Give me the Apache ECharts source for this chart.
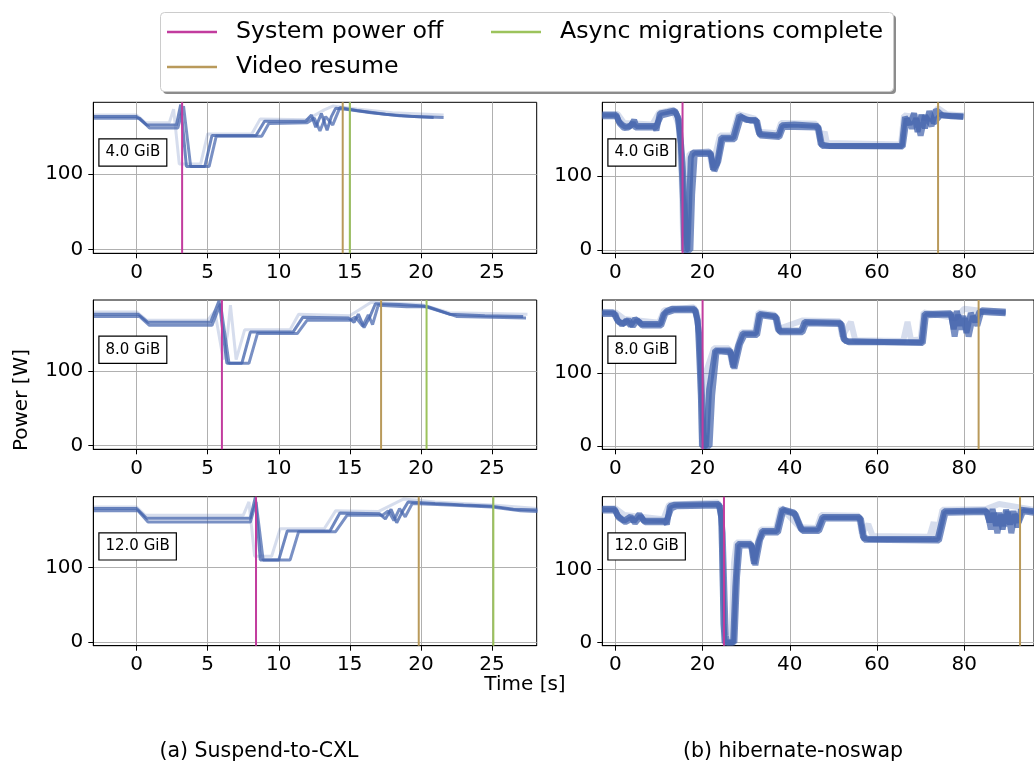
<!DOCTYPE html>
<html><head><meta charset="utf-8">
<script src="https://cdn.jsdelivr.net/npm/echarts@6/dist/echarts.min.js"></script>
<style>html,body{margin:0;padding:0;background:#fff}#c{width:1034px;height:764px}</style>
</head><body><div id="c"></div>
<script>
// ---------- data ----------
const sizeLabels = ['4.0 GiB', '8.0 GiB', '12.0 GiB'];
const cxlTicks = [0, 5, 10, 15, 20, 25];
const hibTicks = [0, 20, 40, 60, 80];
const powerTicks = [0, 100];

// event times [s]
const cxlPowerOff = [3.2, 6.0, 8.4];
const cxlVideoResume = [14.5, 17.2, 19.85];
const cxlAsyncDone = [15.0, 20.4, 25.1];
const hibPowerOff = [15.4, 20.0, 24.9];
const hibVideoResume = [74.0, 83.3, 92.8];

// Suspend-to-CXL traces [time s, power W]
const cxl4a = [[-3,176],[0,176],[0.7,165],[2.8,165],[3.1,192],[3.5,110],[4.8,110],[5.3,151],[8.4,151],[9.0,170],[11.9,170],[12.3,178],[12.6,162],[13.0,180],[13.4,158],[13.7,176],[14.0,187],[15.0,185],[16.5,181],[18.5,177],[20.9,175]];
const cxl4b = [[-3,174],[0.2,174],[0.9,161],[2.9,161],[3.3,190],[3.8,110],[5.1,110],[5.6,150],[8.8,150],[9.3,167],[12.0,168],[12.5,174],[12.9,157],[13.3,176],[13.8,165],[14.3,188],[15.5,184],[17.5,179],[19.5,176],[21.6,175]];
const cxl4c = [[-3,178],[0,178],[0.6,168],[2.3,168],[2.6,186],[3.0,113],[4.5,113],[5.0,153],[8.1,153],[8.7,173],[12,172],[13.2,185],[13.8,190],[15.5,186],[18,181],[21.6,178]];

const cxl8a = [[-3,176],[0.1,176],[0.8,165],[5.2,165],[5.8,194],[6.35,110],[7.4,110],[8.0,152],[11.0,152],[11.7,172],[14.9,171],[15.3,165],[15.6,176],[16.0,158],[16.4,172],[16.8,190],[18.5,189],[20.2,187],[22,176],[24.5,174],[27.2,173]];
const cxl8b = [[-3,173],[0.2,173],[0.9,161],[5.3,161],[5.9,190],[6.5,110],[7.9,110],[8.5,150],[11.3,150],[12.0,168],[15.0,168],[15.4,172],[15.9,160],[16.3,175],[16.6,162],[17.0,188],[19,186],[20.5,186],[22.5,173],[25,172],[27.4,171]];
const cxl8c = [[-3,179],[0,179],[0.7,168],[5.0,168],[5.5,180],[6.1,115],[6.4,150],[6.6,188],[7.0,115],[7.6,155],[10.8,155],[11.4,176],[15,174],[16.5,192],[20,189],[22,178],[27.5,176]];

const cxl12a = [[-3,179],[0,179],[0.7,166],[8.0,166],[8.35,194],[8.7,110],[10.0,110],[10.6,149],[13.6,149],[14.3,173],[17.1,172],[17.5,165],[17.9,178],[18.3,160],[18.7,175],[19.1,188],[21,186],[23,184],[25.1,182],[26.5,178],[28.2,177]];
const cxl12b = [[-3,176],[0.1,176],[0.8,161],[8.0,161],[8.4,188],[8.9,110],[10.8,110],[11.4,148],[14.0,148],[14.8,170],[17.3,170],[17.7,176],[18.1,163],[18.5,179],[18.9,168],[19.4,186],[22,184],[25,181],[27,176],[28.2,175]];
const cxl12c = [[-3,181],[0,181],[0.6,170],[7.5,170],[7.9,188],[8.3,115],[9.5,115],[10.1,152],[13.2,152],[14.0,176],[17,175],[18.8,192],[21,188],[25,184],[28.2,179]];

// hibernate-noswap traces [time s, power W]
const hib4a = [[-3,183],[0.2,183],[0.8,174],[1.5,170],[2.3,167],[3.5,168],[4.3,176],[4.8,168],[9.0,168],[9.4,162],[10.2,185],[12,187],[13.6,189],[14.3,180],[15.0,144],[15.5,70],[15.8,0],[16.5,0],[16.9,60],[17.3,125],[17.8,132],[21.8,132],[22.4,109],[23.3,117],[24.3,152],[27.0,152],[28.4,182],[30,176],[32.2,176],[33,157],[37.4,155],[38.2,169],[41,170],[46.4,168],[47.1,143],[49,141],[65.7,141],[66.4,180],[67.5,170],[68.5,185],[69.3,160],[70.2,183],[71.0,165],[72,188],[73,172],[74.6,183],[77,181],[79.8,180]];
const hib4b = [[-3,181],[0.3,181],[1.0,171],[2.0,165],[3.0,166],[4.0,172],[4.6,166],[9.2,166],[10.5,182],[13.8,187],[14.6,176],[15.4,120],[16.2,20],[16.6,0],[17.2,0],[17.6,75],[18.2,130],[21.9,130],[22.7,107],[23.6,120],[24.6,150],[27.3,150],[28.8,180],[31,175],[32.5,175],[33.2,155],[37.6,153],[38.5,167],[46.6,166],[47.4,141],[65.9,140],[66.8,178],[68,165],[69,178],[70,155],[71,182],[72.5,168],[73.5,190],[75,182],[79.8,181]];
const hib4c = [[-3,184],[0.5,184],[2,172],[8.5,170],[10,186],[13.2,190],[14.5,170],[15.2,100],[15.6,0],[16.2,0],[16.5,95],[17.0,130],[21.5,134],[22.2,112],[24,155],[26.8,155],[28.2,184],[32,178],[32.8,160],[37.2,158],[38,172],[46,171],[47,148],[48,160],[48.5,145],[65.5,143],[66.2,182],[72,178],[74,192],[76,184],[80,182]];

const hib8a = [[-3,183],[-0.5,183],[0.3,174],[1.5,166],[2.5,172],[3.5,165],[4.5,174],[5.5,170],[6,167],[10.3,167],[11.0,180],[11.8,185],[13,188],[18.1,188],[18.9,172],[19.6,70],[19.9,0],[20.8,0],[21.5,78],[22.9,131],[26.3,131],[27,108],[28.2,138],[29.2,154],[32.2,154],[33,181],[36.7,178],[37.4,158],[42.6,158],[43.4,170],[51.6,169],[52.3,147],[53.5,142],[70.2,142],[70.9,181],[76.9,182],[77.6,160],[78.3,185],[79,165],[79.8,178],[80.5,155],[81.5,182],[82.5,170],[83.5,184],[86,183],[89.5,182]];
const hib8b = [[-3,181],[0,181],[0.6,170],[2,168],[3,173],[4,164],[5,172],[6.2,165],[10.5,165],[11.5,182],[13.5,186],[18.4,186],[19.3,150],[20.2,20],[20.6,0],[21.6,0],[22.2,70],[23.2,130],[26.5,128],[27.3,106],[28.6,140],[29.6,152],[32.5,152],[33.3,179],[37,176],[37.7,156],[42.9,156],[43.7,168],[51.9,167],[52.6,144],[70.5,141],[71.2,179],[77,180],[77.8,150],[78.6,180],[79.4,160],[80.2,175],[81,150],[82,178],[83,165],[84,186],[89.5,184]];
const hib8c = [[-3,184],[0,183],[2,174],[10,169],[11.2,186],[18,190],[18.8,180],[19.5,110],[19.8,0],[20.5,0],[21,105],[22.6,134],[26,134],[26.8,112],[29,156],[32,156],[32.8,183],[36.5,180],[37.2,160],[43,172],[51.4,171],[52,150],[54,170],[55,145],[66,144],[67,170],[67.8,145],[70,146],[70.7,183],[78,175],[80,188],[84,185],[89.5,184]];

const hib12a = [[-3,183],[-0.2,183],[0.5,174],[2,167],[3.5,173],[4.2,166],[5.5,176],[6.5,167],[11.4,167],[11.8,162],[12.5,187],[13.6,189],[23.7,190],[24.3,171],[24.8,25],[25.1,0],[27,0],[27.5,76],[28.1,135],[31.1,135],[31.8,108],[32.8,138],[33.7,153],[37,153],[38.2,183],[41,178],[42.6,155],[46.4,155],[47.5,172],[56,172],[56.8,144],[58,142],[73.9,142],[75.4,180],[85,181],[85.8,165],[86.5,183],[87.3,160],[88,178],[88.8,155],[89.6,182],[90.5,162],[91.3,180],[92.2,158],[93,182],[96,180]];
const hib12b = [[-3,181],[0,181],[0.8,171],[2.3,165],[3.8,170],[4.5,164],[5.8,173],[6.8,165],[11.6,165],[12.8,184],[14,187],[24,188],[24.6,150],[25.3,10],[25.6,0],[27.3,0],[27.9,90],[28.5,133],[31.3,133],[32.1,106],[33.2,141],[34,151],[37.3,151],[38.5,181],[41.3,176],[42.9,153],[46.7,153],[47.8,170],[56.3,170],[57.1,141],[74.2,140],[75.7,178],[85.3,179],[86.1,155],[86.8,178],[87.6,150],[88.4,175],[89.2,160],[90,180],[90.8,150],[91.6,176],[92.5,165],[93.5,180],[96,178]];
const hib12c = [[-3,184],[0,184],[2,175],[11,169],[12.3,189],[23.5,192],[24.2,180],[24.6,100],[24.9,0],[26.6,0],[27.2,110],[27.8,137],[31,137],[31.6,112],[33.4,155],[36.8,155],[38,185],[42.3,158],[46.2,157],[47.2,175],[55.8,174],[56.5,150],[58,162],[59,146],[72,145],[73,165],[73.6,143],[75,182],[85,183],[88,190],[92,186],[96,182]];

// ---------- styling / layout ----------
const FONT = 'DejaVu Sans';
const BLUE = '#4565ad';
const C_OFF = '#c23c9e', C_VIDEO = '#b99a5b', C_ASYNC = '#9cc35c';
const colLeft = [93.3, 602.3];
const colWidth = [443.4, 443.5];
const rowTop = [102.3, 300, 496.7];
const rowHeight = [151, 149.3, 149];
const xRange = [[-3.05, 28.15], [-3.0, 96.0]];
const yRange = [[-5.3, 195], [-4.4, 200]];
const traces = [
  [[cxl4a, cxl4b, cxl4c], [hib4a, hib4b, hib4c]],
  [[cxl8a, cxl8b, cxl8c], [hib8a, hib8b, hib8c]],
  [[cxl12a, cxl12b, cxl12c], [hib12a, hib12b, hib12c]]
];

const grid = [], xAxis = [], yAxis = [], series = [], graphic = [];
let idx = 0;
for (let r = 0; r < 3; r++) {
  for (let c = 0; c < 2; c++) {
    grid.push({left: colLeft[c], top: rowTop[r], width: colWidth[c], height: rowHeight[r],
      show: true, borderColor: '#000', borderWidth: 1, backgroundColor: 'transparent'});
    const ticks = c === 0 ? cxlTicks : hibTicks;
    xAxis.push({type: 'value', gridIndex: idx, min: xRange[c][0], max: xRange[c][1],
      axisLine: {show: true, onZero: false, lineStyle: {color: '#000', width: 1}},
      axisTick: {show: true, length: 5, inside: false, customValues: ticks, lineStyle: {color: '#000'}},
      axisLabel: {customValues: ticks, fontSize: 20, fontFamily: FONT, color: '#000', margin: 9},
      splitLine: {show: true, lineStyle: {color: '#b0b0b0', width: 1}}});
    yAxis.push({type: 'value', gridIndex: idx, min: yRange[c][0], max: yRange[c][1],
      axisLine: {show: true, onZero: false, lineStyle: {color: '#000', width: 1}},
      axisTick: {show: true, length: 5, customValues: powerTicks, lineStyle: {color: '#000'}},
      axisLabel: {customValues: powerTicks, fontSize: 20, fontFamily: FONT, color: '#000', margin: 10},
      splitLine: {show: true, lineStyle: {color: '#b0b0b0', width: 1}}});
    const tr = traces[r][c];
    const w = c === 0 ? 3 : 6;
    const ops = [0.78, 0.72, 0.22];
    tr.forEach((d, k) => {
      series.push({type: 'line', xAxisIndex: idx, yAxisIndex: idx, data: d, symbol: 'none',
        silent: true, z: 2, clip: true,
        lineStyle: {color: BLUE, width: w, opacity: ops[k]}});
    });
    const yr = yRange[c];
    const ev = c === 0
      ? [['System power off', cxlPowerOff[r], C_OFF], ['Video resume', cxlVideoResume[r], C_VIDEO], ['Async migrations complete', cxlAsyncDone[r], C_ASYNC]]
      : [['System power off', hibPowerOff[r], C_OFF], ['Video resume', hibVideoResume[r], C_VIDEO]];
    ev.forEach(e => {
      series.push({type: 'line', name: e[0], color: e[2], xAxisIndex: idx, yAxisIndex: idx,
        data: [[e[1], yr[0]], [e[1], yr[1]]], symbol: 'none', silent: true, z: 5, clip: true,
        itemStyle: {color: e[2]}, lineStyle: {color: e[2], width: 2}});
    });
    // size label box
    graphic.push({type: 'text', left: colLeft[c] + 5, top: rowTop[r] + (r === 0 ? 36 : 35.5), z: 10,
      style: {text: sizeLabels[r], font: '15px "DejaVu Sans"', fill: '#000',
        backgroundColor: '#fff', borderColor: '#000', borderWidth: 1.2,
        padding: [5, 6, 5, 6], lineHeight: 16}});
    idx++;
  }
}

// legend frame
graphic.push({type: 'rect', left: 163, top: 15, z: 0, shape: {width: 733, height: 79, r: 4},
  style: {fill: 'rgba(0,0,0,0.45)'}});
graphic.push({type: 'rect', left: 160, top: 12, z: 1, shape: {width: 733, height: 79, r: 4},
  style: {fill: '#fff', stroke: '#cccccc', lineWidth: 1}});
// axis titles and captions
graphic.push({type: 'text', x: 525, y: 685, z: 10, style: {text: 'Time [s]', font: '20px "DejaVu Sans"', fill: '#000', align: 'center', verticalAlign: 'middle'}});
graphic.push({type: 'text', x: 22, y: 400, rotation: Math.PI / 2, z: 10, style: {text: 'Power [W]', font: '20px "DejaVu Sans"', fill: '#000', align: 'center', verticalAlign: 'middle'}});
graphic.push({type: 'text', x: 259, y: 752, z: 10, style: {text: '(a) Suspend-to-CXL', font: '20.5px "DejaVu Sans"', fill: '#000', align: 'center', verticalAlign: 'middle'}});
graphic.push({type: 'text', x: 793, y: 752, z: 10, style: {text: '(b) hibernate-noswap', font: '20.5px "DejaVu Sans"', fill: '#000', align: 'center', verticalAlign: 'middle'}});

const legendText = {fontSize: 23.7, fontFamily: FONT, color: '#000', lineHeight: 24, padding: [0, 0, 0, 14]};
const option = {
  animation: false,
  backgroundColor: '#fff',
  grid, xAxis, yAxis, series, graphic,
  legend: [
    {data: ['System power off', 'Video resume'], orient: 'vertical', left: 167, top: 20, padding: 0,
      itemWidth: 50, itemHeight: 2.5, itemGap: 11, icon: 'rect', selectedMode: false, z: 20, textStyle: legendText},
    {data: ['Async migrations complete'], orient: 'vertical', left: 491, top: 20, padding: 0,
      itemWidth: 50, itemHeight: 2.5, itemGap: 11, icon: 'rect', selectedMode: false, z: 20, textStyle: legendText}
  ]
};
const chart = echarts.init(document.getElementById('c'), null, {renderer: 'canvas'});
chart.setOption(option);
</script></body></html>
